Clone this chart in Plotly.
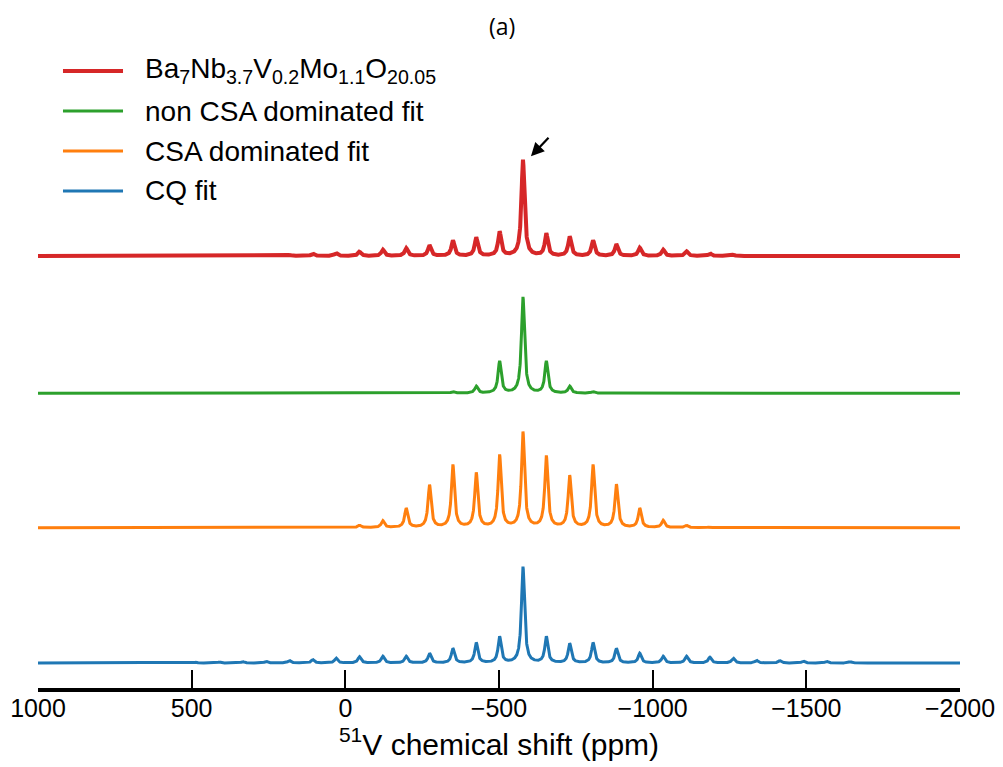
import numpy as np
import plotly.graph_objects as go

# 51V MAS NMR: isotropic peak and its spinning sidebands
CENTER_PPM = -578.0          # isotropic shift of the main V site
SIDEBAND_SPACING_PPM = 76.0  # spinning-rate spacing in ppm
LINE_HALF_WIDTH_PPM = 6.0    # Lorentzian half width

# sideband order n -> position CENTER - n * spacing
orders = list(range(-16, 17))

# relative intensities for n = -16 ... 16 (main peak n = 0 is 1.0)
experimental = [0, 0, 0, 0, 0, 0.005, 0.012, 0.025, 0.03, 0.045, 0.065, 0.08, 0.11, 0.16, 0.19, 0.25,
                1.0,
                0.23, 0.2, 0.16, 0.12, 0.085, 0.065, 0.048, 0.028, 0.012, 0.005, 0, 0, 0, 0, 0, 0]
non_csa_fit = [0, 0, 0, 0, 0, 0, 0, 0, 0, 0, 0, 0, 0.004, 0.017, 0.072, 0.33,
               1.0,
               0.33, 0.072, 0.017, 0.004, 0, 0, 0, 0, 0, 0, 0, 0, 0, 0, 0, 0]
csa_fit = [0, 0, 0, 0, 0, 0, 0, 0, 0.005, 0.024, 0.07, 0.2, 0.44, 0.65, 0.565, 0.75,
           0.99,
           0.74, 0.535, 0.65, 0.445, 0.2, 0.075, 0.022, 0.005, 0, 0, 0, 0, 0, 0, 0, 0]
cq_fit = [0, 0.004, 0.008, 0.01, 0.014, 0.017, 0.025, 0.035, 0.05, 0.065, 0.07, 0.07, 0.1, 0.15, 0.21, 0.27,
          1.0,
          0.27, 0.2, 0.21, 0.15, 0.1, 0.07, 0.07, 0.06, 0.05, 0.028, 0.024, 0.02, 0.017, 0.013, 0.007, 0.004]

# vertical stacking offsets (in units of the normalised main-peak height)
offsets = {"exp": 4.24, "noncsa": 2.81, "csa": 1.41, "cq": 0.0}

tick_values = [1000, 500, 0, -500, -1000, -1500, -2000]

ppm = np.linspace(1000, -2000, 6001)


def spectrum(intensities):
    y = np.zeros_like(ppm)
    g2 = LINE_HALF_WIDTH_PPM ** 2
    for n, a in zip(orders, intensities):
        if a:
            pos = CENTER_PPM - n * SIDEBAND_SPACING_PPM
            y += a * g2 / ((ppm - pos) ** 2 + g2)
    return y


RED, GREEN, ORANGE, BLUE = "#d62728", "#2ca02c", "#ff7f0e", "#1f77b4"

fig = go.Figure()
series = [
    (cq_fit, offsets["cq"], BLUE, 3),
    (csa_fit, offsets["csa"], ORANGE, 3),
    (non_csa_fit, offsets["noncsa"], GREEN, 3),
    (experimental, offsets["exp"], RED, 4),
]
for vals, off, col, w in series:
    fig.add_trace(go.Scatter(x=ppm, y=spectrum(vals) + off, mode="lines",
                             line=dict(color=col, width=w), showlegend=False,
                             hoverinfo="skip"))

FONT = "Liberation Sans"

# hand-drawn legend (long line samples)
legend_rows = [
    ("Ba<sub>7</sub>Nb<sub>3.7</sub>V<sub>0.2</sub>Mo<sub>1.1</sub>O<sub>20.05</sub>", RED, 4, 0.9522),
    ("non CSA dominated fit", GREEN, 3, 0.8904),
    ("CSA dominated fit", ORANGE, 3, 0.8287),
    ("CQ fit", BLUE, 3, 0.7670),
]
annotations = []
shapes = []
for label, col, w, yp in legend_rows:
    shapes.append(dict(type="line", xref="paper", yref="paper",
                       x0=0.0271, x1=0.0922, y0=yp, y1=yp,
                       line=dict(color=col, width=w)))
    annotations.append(dict(text=label, xref="paper", yref="paper", x=0.114, y=yp,
                            xanchor="left", yanchor="middle", showarrow=False,
                            font=dict(family=FONT, size=28, color="black")))

# panel label
annotations.append(dict(text="(a)", xref="paper", yref="paper", x=(502 - 38) / 922, y=1.0 + 14 / 648,
                        xanchor="center", yanchor="middle", showarrow=False,
                        font=dict(family="Open Sans", size=23, color="black")))

# arrow pointing at the main experimental peak
annotations.append(dict(text="", x=CENTER_PPM - 26, y=offsets["exp"] + 1.04, xref="x", yref="y",
                        showarrow=True, ax=19, ay=-20, arrowhead=2, arrowsize=1.2,
                        arrowwidth=2.2, arrowcolor="black"))

fig.update_layout(
    width=1003, height=767,
    margin=dict(l=38, r=43, t=40, b=79),
    paper_bgcolor="white", plot_bgcolor="white",
    shapes=shapes, annotations=annotations,
    xaxis=dict(range=[1000, -2000], tickvals=tick_values, automargin=False,
               ticks="inside", ticklen=18, tickwidth=2, tickcolor="black",
               ticklabelstandoff=-5,
               showline=True, linewidth=4, linecolor="black", showgrid=False, zeroline=False,
               tickfont=dict(family=FONT, size=25, color="black"),
               title=dict(text="<sup>51</sup>V chemical shift (ppm)", standoff=14,
                          font=dict(family=FONT, size=30, color="black"))),
    yaxis=dict(range=[-0.26, 6.49], visible=False),
)

fig.write_html("out.html")
